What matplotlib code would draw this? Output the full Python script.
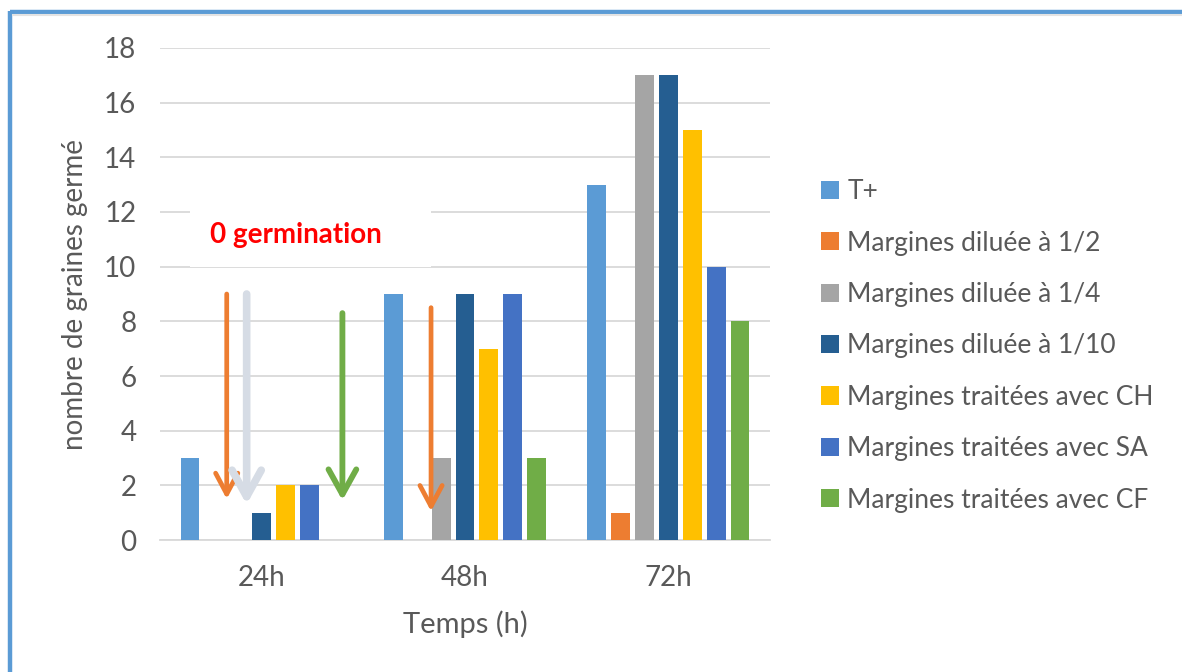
#!/usr/bin/env python3
"""Germinated seed counts over time for olive mill wastewater (margines) treatments."""

import matplotlib.pyplot as plt
from matplotlib.lines import Line2D
from matplotlib.patches import Rectangle
import numpy as np

TIMES = ["24h", "48h", "72h"]
SERIES = [
    "T+",
    "Margines diluée à 1/2",
    "Margines diluée à 1/4",
    "Margines diluée à 1/10",
    "Margines traitées avec CH",
    "Margines traitées avec SA",
    "Margines traitées avec CF",
]
T_PLUS = [3, 9, 13]
DIL_HALF = [0, 0, 1]
DIL_QUARTER = [0, 3, 17]
DIL_TENTH = [1, 9, 17]
TREAT_CH = [2, 7, 15]
TREAT_SA = [2, 9, 10]
TREAT_CF = [0, 3, 8]
VALUES = [T_PLUS, DIL_HALF, DIL_QUARTER, DIL_TENTH, TREAT_CH, TREAT_SA, TREAT_CF]

COLORS = ["#5B9BD5", "#ED7D31", "#A5A5A5", "#255E91", "#FFC000", "#4472C4", "#70AD47"]
TEXT_GREY = "#595959"
GRID_GREY = "#D9D9D9"
FONT = ["Lato", "DejaVu Sans"]

# downward arrows marking the series with no germination:
# (x, y_start, y_end, colour, line width, head length, head half-width)
ARROWS = [
    (-0.172, 9.0, 1.5, "#ED7D31", 3.4, 1.5, 0.8),
    (-0.074, 9.0, 1.3, "#D6DCE5", 5.5, 1.9, 1.05),
    (0.397, 8.3, 1.45, "#70AD47", 4.2, 1.8, 1.0),
    (0.833, 8.5, 1.05, "#ED7D31", 3.4, 1.5, 0.8),
]

plt.rcParams["font.family"] = FONT

fig = plt.figure(figsize=(11.82, 6.72), dpi=100)
ax = fig.add_axes([0.1354, 0.1964, 0.516, 0.7322])

x = np.arange(len(TIMES))
slot = 0.1176
width = 0.093
for i, (name, vals, color) in enumerate(zip(SERIES, VALUES, COLORS)):
    ax.bar(x + (i - 3) * slot, vals, width, color=color, label=name, zorder=3)

ax.set_xlim(-0.5, 2.5)
ax.set_ylim(0, 18)
ax.set_yticks(range(0, 19, 2))
ax.set_xticks(x)
ax.set_xticklabels(TIMES)
ax.tick_params(axis="both", length=0, labelsize=20, colors=TEXT_GREY)
ax.tick_params(axis="y", pad=17)
ax.tick_params(axis="x", pad=18)
ax.grid(axis="y", color=GRID_GREY, lw=1.3, zorder=0)
for side in ("top", "right", "left"):
    ax.spines[side].set_visible(False)
ax.spines["bottom"].set_color(GRID_GREY)
ax.spines["bottom"].set_linewidth(1.3)

ax.set_ylabel("nombre de graines germé", fontsize=20, color=TEXT_GREY, labelpad=12)
ax.set_xlabel("Temps (h)", fontsize=21, color=TEXT_GREY, labelpad=14)

# white box hiding the grid behind the annotation text
ax.add_patch(Rectangle((-0.353, 9.97), 1.186, 2.3, facecolor="white",
                       edgecolor="none", zorder=2))
ax.text(0.167, 11.16, "0 germination", color="#FF0000", fontsize=20,
        fontweight="bold", ha="center", va="center", zorder=4)

for ax_x, y0, y1, color, lw, h_len, h_wid in ARROWS:
    ax.annotate("", xy=(ax_x, y1), xytext=(ax_x, y0),
                arrowprops=dict(arrowstyle=f"->,head_length={h_len},head_width={h_wid}",
                                color=color, lw=lw, shrinkA=0, shrinkB=0,
                                capstyle="round"),
                zorder=5)

handles, labels = ax.get_legend_handles_labels()
leg = fig.legend(handles, labels, loc="upper left", bbox_to_anchor=(0.6855, 0.749),
                 frameon=False, fontsize=19, labelcolor=TEXT_GREY,
                 handlelength=0.68, handleheight=0.68, handletextpad=0.33,
                 labelspacing=1.0, borderaxespad=0)

# page frame: blue rule along the top and left edges
fig.add_artist(Line2D([0.0085, 1.0], [0.982, 0.982], transform=fig.transFigure,
                      color="#5B9BD5", lw=3.2, solid_capstyle="butt"))
fig.add_artist(Line2D([0.0085, 0.0085], [0.0, 0.984], transform=fig.transFigure,
                      color="#5B9BD5", lw=3.2, solid_capstyle="butt"))
fig.add_artist(Line2D([0.011, 1.0], [0.977, 0.977], transform=fig.transFigure,
                      color="#E3E3E3", lw=1.5))

fig.savefig("out.png", dpi=100)
